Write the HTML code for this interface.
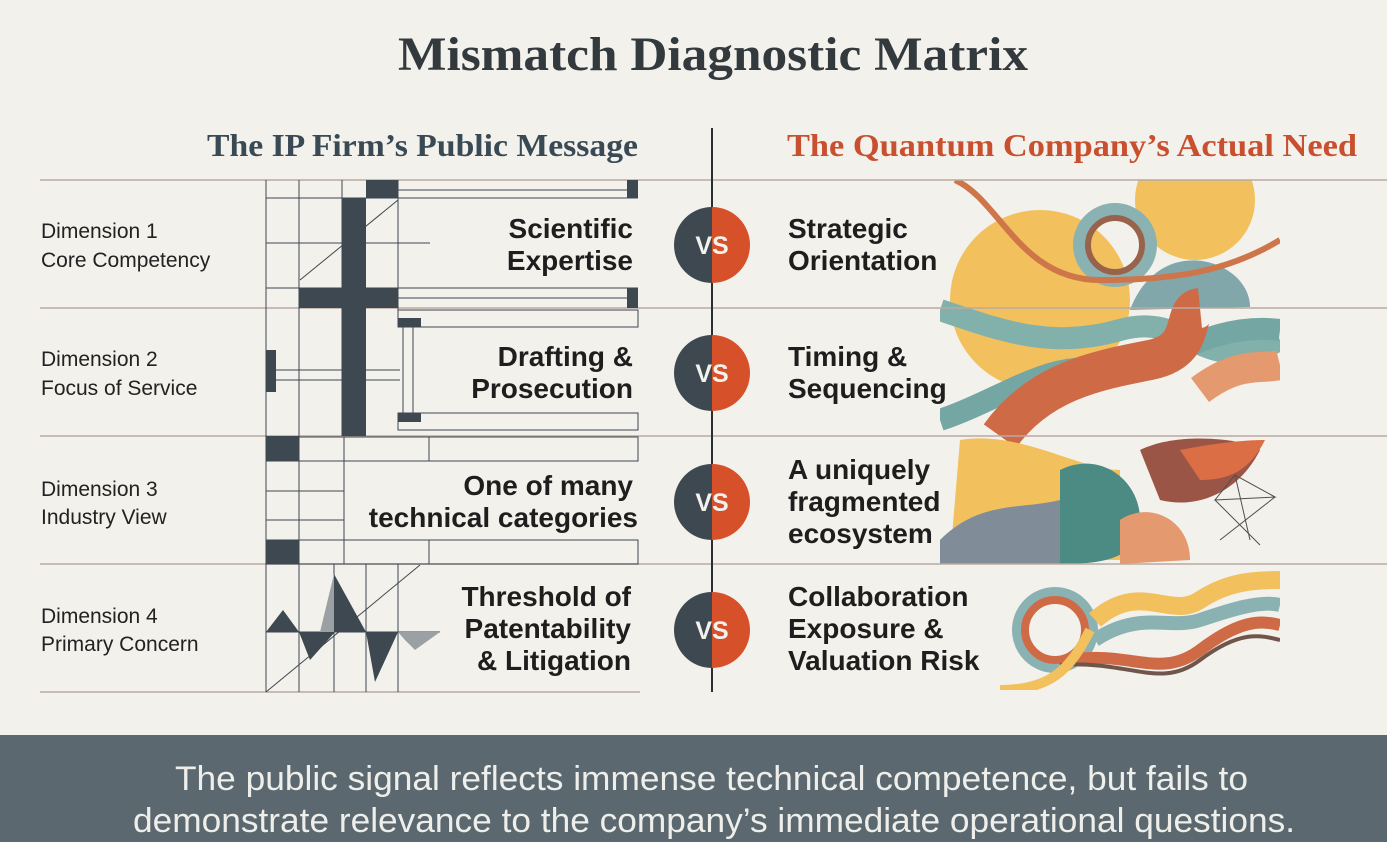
<!DOCTYPE html>
<html><head><meta charset="utf-8"><style>
html,body{margin:0;padding:0;background:#f3f1ec;}
body{width:1387px;height:842px;overflow:hidden;position:relative;font-family:"Liberation Sans",sans-serif;}
svg{position:absolute;left:0;top:0;}
</style></head><body>
<svg width="1387" height="842" viewBox="0 0 1387 842" xmlns="http://www.w3.org/2000/svg">
<rect width="1387" height="842" fill="#f3f1ec"/>
<text x="398" y="70" textLength="630" lengthAdjust="spacingAndGlyphs" font-family="Liberation Serif,serif" font-weight="bold" font-size="48" fill="#333a3e">Mismatch Diagnostic Matrix</text>
<text x="207" y="156" textLength="431" lengthAdjust="spacingAndGlyphs" font-family="Liberation Serif,serif" font-weight="bold" font-size="32" fill="#3a4a55">The IP Firm’s Public Message</text>
<text x="787" y="156" textLength="570" lengthAdjust="spacingAndGlyphs" font-family="Liberation Serif,serif" font-weight="bold" font-size="32" fill="#c9502e">The Quantum Company’s Actual Need</text>

<!-- right colourful art -->
<g opacity="0.85">
<clipPath id="c1"><rect x="940" y="180" width="340" height="510"/></clipPath>
<g clip-path="url(#c1)">
<circle cx="1040" cy="300" r="90" fill="#f2b845"/>
<circle cx="1195" cy="200" r="60" fill="#f2b845"/>
<path d="M1130 310 C1160 230 1250 260 1250 307 Z" fill="#6f9ba0"/>
<circle cx="1115" cy="245" r="35" fill="none" stroke="#7aa8a8" stroke-width="14"/>
<circle cx="1115" cy="245" r="27" fill="none" stroke="#8a4a30" stroke-width="6"/>
<path d="M955 180 C1000 200 1020 280 1100 280 S1230 270 1280 240" fill="none" stroke="#c8602e" stroke-width="6"/>
<path d="M940 310 C1000 330 1050 350 1120 330 S1200 380 1280 340" fill="none" stroke="#6fa6a0" stroke-width="22"/>
<path d="M940 420 C1000 400 1050 360 1100 370 S1200 320 1280 330" fill="none" stroke="#5f9a98" stroke-width="22"/>
<path d="M1000 436 C1040 380 1100 370 1150 360 S1180 310 1200 308" fill="none" stroke="#c8542a" stroke-width="40"/>
<path d="M1200 390 C1240 360 1260 370 1280 365" fill="none" stroke="#e38a5a" stroke-width="30"/>
<path d="M960 440 C1020 430 1080 470 1120 470 L1120 560 L950 560 Z" fill="#f2b845"/>
<path d="M940 540 C980 500 1020 510 1060 500 L1080 564 L940 564 Z" fill="#6c7b89"/>
<path d="M1060 470 C1100 450 1140 480 1140 520 S1100 564 1060 564 Z" fill="#2f7a72"/>
<path d="M1140 450 C1180 430 1250 440 1260 450 C1240 490 1200 510 1160 500 Z" fill="#8b3a2a"/>
<path d="M1180 450 C1230 440 1260 440 1265 440 C1250 470 1230 480 1200 480 Z" fill="#d8582a"/>
<path d="M1120 520 C1150 500 1190 520 1190 560 L1120 564 Z" fill="#e38a5a"/>
<g stroke="#333" stroke-width="1" fill="none"><path d="M1215 500 L1275 497 L1235 475 Z M1215 500 L1260 545 M1235 475 L1250 540 M1275 497 L1220 540"/></g>
<circle cx="1055" cy="630" r="38" fill="none" stroke="#7aa8a8" stroke-width="10"/>
<circle cx="1055" cy="630" r="30" fill="none" stroke="#c8542a" stroke-width="8"/>
<path d="M1095 620 C1140 580 1170 620 1200 600 S1260 580 1280 580" fill="none" stroke="#f2b845" stroke-width="18"/>
<path d="M1095 640 C1140 610 1170 630 1200 620 S1260 600 1280 605" fill="none" stroke="#7aa8a8" stroke-width="14"/>
<path d="M1070 660 C1130 650 1160 680 1200 650 S1260 620 1280 625" fill="none" stroke="#c8542a" stroke-width="12"/>
<path d="M1060 665 C1130 660 1160 690 1200 660 S1260 635 1280 640" fill="none" stroke="#5a3a30" stroke-width="4"/>
<path d="M1000 690 C1050 690 1070 670 1090 630" fill="none" stroke="#f2b845" stroke-width="10"/>
</g>
</g>

<!-- row lines -->
<g stroke="#b9a9a3" stroke-width="1.5">
<line x1="40" y1="180" x2="1387" y2="180"/>
<line x1="40" y1="308" x2="1387" y2="308"/>
<line x1="40" y1="436" x2="1387" y2="436"/>
<line x1="40" y1="564" x2="1387" y2="564"/>
<line x1="40" y1="692" x2="640" y2="692"/>
</g>

<!-- left grid art -->
<g stroke="#3d4850" stroke-width="1" fill="none">
<line x1="266" y1="180" x2="266" y2="692"/>
<line x1="299" y1="180" x2="299" y2="564"/>
<line x1="342" y1="180" x2="342" y2="436"/>
<line x1="398" y1="180" x2="398" y2="310"/>
<line x1="266" y1="198" x2="638" y2="198"/>
<line x1="266" y1="243" x2="430" y2="243"/>
<line x1="266" y1="288" x2="638" y2="288"/>
<line x1="398" y1="190" x2="638" y2="190"/>
<line x1="398" y1="298" x2="638" y2="298"/>
<rect x="398" y="310" width="240" height="17"/>
<rect x="398" y="413" width="240" height="17"/>
<line x1="266" y1="436" x2="266" y2="564"/>
<rect x="266" y="437" width="372" height="24"/>
<rect x="266" y="540" width="372" height="24"/>
<line x1="344" y1="437" x2="344" y2="564"/>
<line x1="429" y1="437" x2="429" y2="461"/>
<line x1="429" y1="540" x2="429" y2="564"/>
<line x1="266" y1="491" x2="344" y2="491"/>
<line x1="266" y1="520" x2="344" y2="520"/>
<line x1="300" y1="280" x2="398" y2="200"/>
<line x1="266" y1="692" x2="420" y2="565"/>
<line x1="266" y1="632" x2="440" y2="632"/>
<line x1="334" y1="564" x2="334" y2="692"/>
<line x1="366" y1="564" x2="366" y2="692"/>
<line x1="398" y1="564" x2="398" y2="692"/>
<line x1="299" y1="564" x2="299" y2="692"/>
<line x1="266" y1="370" x2="400" y2="370"/>
<line x1="266" y1="380" x2="400" y2="380"/>
<line x1="403" y1="327" x2="403" y2="413"/>
<line x1="413" y1="327" x2="413" y2="413"/>
</g>
<g fill="#3d4850">
<rect x="366" y="180" width="32" height="18"/>
<rect x="627" y="180" width="11" height="18"/>
<rect x="342" y="198" width="24" height="238"/>
<rect x="299" y="288" width="99" height="20"/>
<rect x="627" y="288" width="11" height="20"/>
<rect x="398" y="318" width="23" height="9"/>
<rect x="398" y="413" width="23" height="9"/>
<rect x="266" y="350" width="10" height="42"/>
<rect x="266" y="436" width="33" height="25"/>
<rect x="266" y="540" width="33" height="24"/>
<path d="M266 632 L283 610 L299 632 Z M299 632 L335 632 L310 660 Z M334 632 L334 574 L366 632 Z M366 632 L398 632 L375 682 Z"/>
</g>
<path d="M320 632 L334 574 L334 632 Z M398 632 L440 632 L415 650 L405 640 Z" fill="#9aa0a3"/>

<!-- labels left -->
<g font-size="21" fill="#222">
<text x="41" y="238">Dimension 1</text><text x="41" y="267">Core Competency</text>
<text x="41" y="366">Dimension 2</text><text x="41" y="395">Focus of Service</text>
<text x="41" y="496">Dimension 3</text><text x="41" y="524">Industry View</text>
<text x="41" y="623">Dimension 4</text><text x="41" y="651">Primary Concern</text>
</g>
<g font-size="28" font-weight="bold" fill="#1e1e1e" text-anchor="end">
<text x="633" y="238">Scientific</text><text x="633" y="270">Expertise</text>
<text x="633" y="366">Drafting &amp;</text><text x="633" y="398">Prosecution</text>
<text x="633" y="495">One of many</text><text x="638" y="527">technical categories</text>
<text x="631" y="606">Threshold of</text><text x="631" y="638">Patentability</text><text x="631" y="670">&amp; Litigation</text>
</g>
<g font-size="28" font-weight="bold" fill="#1e1e1e">
<text x="788" y="238">Strategic</text><text x="788" y="270">Orientation</text>
<text x="788" y="366">Timing &amp;</text><text x="788" y="398">Sequencing</text>
<text x="788" y="479">A uniquely</text><text x="788" y="511">fragmented</text><text x="788" y="543">ecosystem</text>
<text x="788" y="606">Collaboration</text><text x="788" y="638">Exposure &amp;</text><text x="788" y="670">Valuation Risk</text>
</g>

<line x1="712" y1="128" x2="712" y2="692" stroke="#2a2f33" stroke-width="2"/>
<g font-size="25" font-weight="bold" fill="#f3f1ec">
<g transform="translate(712,245)"><path d="M0 -38 A38 38 0 0 0 0 38 Z" fill="#3d4850"/><path d="M0 -38 A38 38 0 0 1 0 38 Z" fill="#d6502a"/><text x="0" y="9" text-anchor="middle">VS</text></g>
<g transform="translate(712,373)"><path d="M0 -38 A38 38 0 0 0 0 38 Z" fill="#3d4850"/><path d="M0 -38 A38 38 0 0 1 0 38 Z" fill="#d6502a"/><text x="0" y="9" text-anchor="middle">VS</text></g>
<g transform="translate(712,502)"><path d="M0 -38 A38 38 0 0 0 0 38 Z" fill="#3d4850"/><path d="M0 -38 A38 38 0 0 1 0 38 Z" fill="#d6502a"/><text x="0" y="9" text-anchor="middle">VS</text></g>
<g transform="translate(712,630)"><path d="M0 -38 A38 38 0 0 0 0 38 Z" fill="#3d4850"/><path d="M0 -38 A38 38 0 0 1 0 38 Z" fill="#d6502a"/><text x="0" y="9" text-anchor="middle">VS</text></g>
</g>

<rect x="0" y="735" width="1387" height="107" fill="#5b6870"/>
<g font-size="34" fill="#eeeeea">
<text x="175" y="790" textLength="1073" lengthAdjust="spacingAndGlyphs">The public signal reflects immense technical competence, but fails to</text>
<text x="133" y="832" textLength="1162" lengthAdjust="spacingAndGlyphs">demonstrate relevance to the company’s immediate operational questions.</text>
</g>
</svg>
</body></html>
